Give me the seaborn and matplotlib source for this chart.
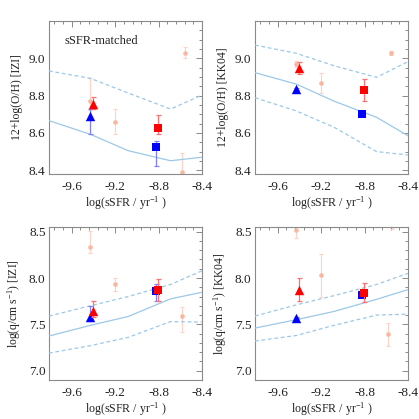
import matplotlib
matplotlib.use("Agg")
import matplotlib.pyplot as plt
import seaborn as sns
import numpy as np
from matplotlib.ticker import MultipleLocator

sns.set_style("white")
plt.rcParams['font.family'] = ['Liberation Serif', 'DejaVu Serif']
plt.rcParams['mathtext.fontset'] = 'custom'
plt.rcParams['mathtext.rm'] = 'Liberation Serif'
plt.rcParams['mathtext.it'] = 'Liberation Serif:italic'
plt.rcParams['mathtext.default'] = 'regular'

# ---------------- data ----------------
model_x = [-9.81, -9.43, -9.08, -8.69, -8.40]

izi_oh_med = [8.666, 8.593, 8.505, 8.451, 8.470]
izi_oh_hi = [8.932, 8.893, 8.814, 8.728, 8.803]

kk_oh_med = [8.923, 8.862, 8.770, 8.684, 8.585]
kk_oh_hi = [9.071, 9.027, 8.960, 8.898, 8.982]
kk_oh_lo = [8.789, 8.718, 8.630, 8.500, 8.482]

izi_q_med = [7.374, 7.489, 7.585, 7.775, 7.846]
izi_q_hi = [7.589, 7.700, 7.800, 7.930, 8.078]
izi_q_lo = [7.190, 7.270, 7.360, 7.530, 7.525]

kk_q_med = [7.460, 7.550, 7.640, 7.770, 7.875]
kk_q_hi = [7.590, 7.710, 7.810, 7.930, 8.050]
kk_q_lo = [7.320, 7.380, 7.490, 7.600, 7.610]

# main samples: triangles (x) and squares (x)
tri_blue_x, tri_red_x = -9.433, -9.405
sq_blue_x, sq_red_x = -8.820, -8.810

# per-panel values [IZI O/H, KK04 O/H, IZI q, KK04 q]
tri_blue_y = [8.691, 8.836, 7.578, 7.571]
tri_blue_hi = [8.728, 8.842, 7.696, 7.577]
tri_blue_lo = [8.595, 8.830, 7.532, 7.565]

tri_red_y = [8.755, 8.950, 7.639, 7.875]
tri_red_hi = [8.791, 8.982, 7.757, 8.000]
tri_red_lo = [8.730, 8.916, 7.578, 7.757]

sq_blue_y = [8.523, 8.702, 7.864, 7.818]
sq_blue_hi = [8.557, 8.708, 7.936, 7.825]
sq_blue_lo = [8.423, 8.696, 7.757, 7.811]

sq_red_y = [8.625, 8.830, 7.875, 7.843]
sq_red_hi = [8.696, 8.889, 7.990, 7.947]
sq_red_lo = [8.594, 8.771, 7.757, 7.746]

# faint comparison points per panel
faint_x = [[-9.430, -9.202, -8.556, -8.587],
           [-9.435, -9.199, -8.559],
           [-9.432, -9.202, -8.587],
           [-9.432, -9.202, -8.587, -8.550]]
faint_y = [[8.770, 8.657, 9.030, 8.389],
           [8.970, 8.869, 9.030],
           [8.332, 7.936, 7.585],
           [8.518, 8.032, 7.392, 8.640]]
faint_hi = [[8.896, 8.727, 9.062, 8.490],
            [8.985, 8.923, 9.040],
            [8.507, 8.000, 7.685],
            [8.579, 8.257, 7.518, 8.720]]
faint_lo = [[8.723, 8.593, 9.000, 8.300],
            [8.955, 8.816, 9.020],
            [8.268, 7.864, 7.417],
            [8.429, 7.792, 7.264, 8.525]]

ylabels = ['12+log(O/H) [IZI]', '12+log(O/H) [KK04]',
           'log(q/cm s$^{-1}$) [IZI]', 'log(q/cm s$^{-1}$) [KK04]']
xlabel = 'log(sSFR / yr$^{-1}$ )'
xticklabels = ['-9.6', '-9.2', '-8.8', '-8.4']
medians = [izi_oh_med, kk_oh_med, izi_q_med, kk_q_med]
uppers = [izi_oh_hi, kk_oh_hi, izi_q_hi, kk_q_hi]
lowers = [None, kk_oh_lo, izi_q_lo, kk_q_lo]

# ---------------- figure ----------------
fig = plt.figure(figsize=(4.19, 4.19), dpi=100)
W = 153 / 419
positions = [(49 / 419, 1 - 174 / 419), (255 / 419, 1 - 174 / 419),
             (49 / 419, 1 - 380 / 419), (255 / 419, 1 - 380 / 419)]

line_c = '#9cc8e8'
faint_c = '#f9b7a0'
faint_ec = '#fcd3c5'
frame_c = '#8a8a8a'
text_c = '#222222'

for i, (px, py) in enumerate(positions):
    ax = fig.add_axes([px, py, W, W])
    # faint points
    fx, fy = np.array(faint_x[i]), np.array(faint_y[i])
    ax.errorbar(fx, fy, yerr=[fy - np.array(faint_lo[i]), np.array(faint_hi[i]) - fy],
                fmt='none', ecolor=faint_ec, elinewidth=0.8, capsize=1.5, capthick=0.8, zorder=1)
    sns.scatterplot(x=fx, y=fy, ax=ax, color=faint_c, s=11, linewidth=0,
                    marker='o', legend=False, zorder=2)
    # model lines
    sns.lineplot(x=model_x, y=medians[i], ax=ax, color=line_c, lw=0.9,
                 sort=False, estimator=None, zorder=3)
    sns.lineplot(x=model_x, y=uppers[i], ax=ax, color=line_c, lw=0.9,
                 sort=False, estimator=None, linestyle=(0, (3, 2.2)), zorder=3)
    if lowers[i] is not None:
        sns.lineplot(x=model_x, y=lowers[i], ax=ax, color=line_c, lw=0.9,
                     sort=False, estimator=None, linestyle=(0, (3, 2.2)), zorder=3)
    # blue
    bx = np.array([tri_blue_x, sq_blue_x])
    by = np.array([tri_blue_y[i], sq_blue_y[i]])
    bhi = np.array([tri_blue_hi[i], sq_blue_hi[i]])
    blo = np.array([tri_blue_lo[i], sq_blue_lo[i]])
    ax.errorbar(bx, by, yerr=[by - blo, bhi - by], fmt='none', ecolor='#7f7fff',
                elinewidth=0.9, capsize=1.8, capthick=0.9, zorder=4)
    sns.scatterplot(x=[tri_blue_x], y=[tri_blue_y[i]], ax=ax, marker='^', s=46,
                    color='#0000ff', linewidth=0, legend=False, zorder=5)
    sns.scatterplot(x=[sq_blue_x], y=[sq_blue_y[i]], ax=ax, marker='s', s=32,
                    color='#0000ff', linewidth=0, legend=False, zorder=5)
    # red
    rx = np.array([tri_red_x, sq_red_x])
    ry = np.array([tri_red_y[i], sq_red_y[i]])
    rhi = np.array([tri_red_hi[i], sq_red_hi[i]])
    rlo = np.array([tri_red_lo[i], sq_red_lo[i]])
    ax.errorbar(rx, ry, yerr=[ry - rlo, rhi - ry], fmt='none', ecolor='#ff7070',
                elinewidth=0.9, capsize=1.8, capthick=0.9, zorder=6)
    sns.scatterplot(x=[tri_red_x], y=[tri_red_y[i]], ax=ax, marker='^', s=46,
                    color='#ff0000', linewidth=0, legend=False, zorder=7)
    sns.scatterplot(x=[sq_red_x], y=[sq_red_y[i]], ax=ax, marker='s', s=32,
                    color='#ff0000', linewidth=0, legend=False, zorder=7)

    ax.set_xlim(-9.81, -8.4)
    ax.xaxis.set_minor_locator(MultipleLocator(0.08))
    if i < 2:
        ax.set_ylim(8.38, 9.2)
        ax.set_yticks([8.4, 8.6, 8.8, 9.0])
        ax.yaxis.set_minor_locator(MultipleLocator(0.05))
    else:
        ax.set_ylim(6.9, 8.55)
        ax.set_yticks([7.0, 7.5, 8.0, 8.5])
        ax.yaxis.set_minor_locator(MultipleLocator(0.1))
    ax.set_xticks([-9.6, -9.2, -8.8, -8.4])
    ax.set_xticklabels(xticklabels)
    ax.set_yticklabels([f'{t:.1f}' for t in ax.get_yticks()])
    ax.tick_params(which='both', direction='in', top=True, right=True,
                   color=frame_c, labelsize=9.5, labelcolor=text_c, width=0.7)
    ax.tick_params(axis='x', which='major', pad=5)
    ax.tick_params(axis='y', which='major', pad=2.5)
    ax.tick_params(which='major', length=4)
    ax.tick_params(which='minor', length=2)
    for s in ax.spines.values():
        s.set_color(frame_c)
        s.set_linewidth(0.8)
    ax.set_xlabel(xlabel, fontsize=8.6, color=text_c, labelpad=1)
    ax.set_ylabel(ylabels[i], fontsize=8.4, color=text_c, labelpad=4.5)
    if i == 0:
        ax.text(0.1, 0.87, 'sSFR-matched', transform=ax.transAxes, fontsize=9,
                color=text_c, va='center', ha='left')

fig.savefig('out.png', dpi=100)
